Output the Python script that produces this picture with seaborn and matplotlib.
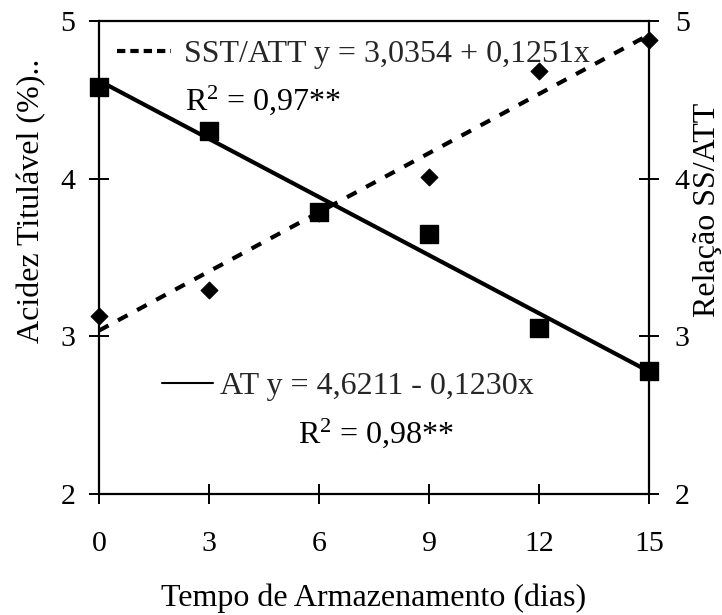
import matplotlib
matplotlib.use("Agg")
import matplotlib.pyplot as plt
from matplotlib.lines import Line2D
import seaborn as sns
import pandas as pd

# ---- data ----
days = [0, 3, 6, 9, 12, 15]
at_values = [4.58, 4.30, 3.79, 3.65, 3.05, 2.78]          # Acidez titulável (%)
ss_att_values = [3.13, 3.29, 3.78, 4.01, 4.68, 4.88]      # Relação SS/ATT
at_fit = (4.6211, -0.1230)       # intercept, slope
ss_fit = (3.0354, 0.1251)
x_ticks = [0, 3, 6, 9, 12, 15]
y_ticks = [2, 3, 4, 5]
ss_label = "SST/ATT y = 3,0354 + 0,1251x"
ss_r2 = "R$^2$ = 0,97**"
at_label = "AT y = 4,6211 - 0,1230x"
at_r2 = "R$^2$ = 0,98**"

sns.set_theme(style="white")
plt.rcParams["font.family"] = ["Liberation Serif", "DejaVu Serif"]
plt.rcParams["mathtext.fontset"] = "custom"
plt.rcParams["mathtext.rm"] = "Liberation Serif"
plt.rcParams["mathtext.it"] = "Liberation Serif:italic"
plt.rcParams["mathtext.bf"] = "Liberation Serif:bold"

fig = plt.figure(figsize=(7.22, 6.15), dpi=100)
ax = fig.add_axes([0.137, 0.197, 0.762, 0.769])

fit_x = [days[0], days[-1]]
df_fit = pd.DataFrame({
    "x": fit_x,
    "at": [at_fit[0] + at_fit[1] * d for d in fit_x],
    "ss": [ss_fit[0] + ss_fit[1] * d for d in fit_x],
})
df = pd.DataFrame({"x": days, "at": at_values, "ss": ss_att_values})

sns.lineplot(data=df_fit, x="x", y="ss", ax=ax, color="black", lw=3,
             linestyle=(0, (2.6, 2.6)), zorder=2)
sns.scatterplot(data=df, x="x", y="ss", ax=ax, marker="D", s=75,
                color="black", edgecolor="black", zorder=3, clip_on=False)
sns.lineplot(data=df_fit, x="x", y="at", ax=ax, color="black", lw=3, zorder=4)
sns.scatterplot(data=df, x="x", y="at", ax=ax, marker="s", s=150,
                color="black", edgecolor="black", zorder=5, clip_on=False)

ax.set_xlim(0, 15)
ax.set_ylim(2, 5)
ax.set_xticks(x_ticks)
ax.set_yticks(y_ticks)

for sp in ax.spines.values():
    sp.set_color("black")
    sp.set_linewidth(1.6)

ax.tick_params(axis="x", direction="inout", length=14, width=1.4,
               labelsize=21.5, pad=20, colors="black", bottom=True)
ax.tick_params(axis="y", direction="inout", length=14, width=1.4,
               labelsize=21.5, pad=10, colors="black", left=True)

ax.set_xlabel("Tempo de Armazenamento (dias)", fontsize=23, color="black")
ax.set_ylabel("Acidez Titulável (%)..", fontsize=23, color="black")
ax.xaxis.set_label_coords(0.5, -0.19)
ax.yaxis.set_label_coords(-0.096, 0.62)

ax2 = ax.twinx()
ax2.set_ylim(2, 5)
ax2.set_yticks(y_ticks)
ax2.tick_params(axis="y", direction="inout", length=14, width=1.4,
                labelsize=21.5, pad=11.5, colors="black", right=True)
ax2.set_ylabel("Relação SS/ATT", fontsize=23, color="black")
ax2.yaxis.set_label_coords(1.08, 0.6)
for sp in ax2.spines.values():
    sp.set_visible(False)
ax2.grid(False)
ax.grid(False)

# legends
h_ss = Line2D([], [], color="black", lw=3, linestyle=(0, (2.0, 1.2)))
leg1 = ax.legend([h_ss], [ss_label], loc="center left",
                 bbox_to_anchor=(0.033, 0.93), frameon=False, fontsize=23,
                 handlelength=1.7, handletextpad=0.4, borderpad=0,
                 borderaxespad=0)
ax.add_artist(leg1)
h_at = Line2D([], [], color="black", lw=1.5)
ax.legend([h_at], [at_label], loc="center left",
          bbox_to_anchor=(0.115, 0.227), frameon=False, fontsize=23,
          handlelength=1.6, handletextpad=0.2, borderpad=0, borderaxespad=0)

ax.text(0.156, 0.833, ss_r2, transform=ax.transAxes, fontsize=23,
        ha="left", va="center", color="black")
ax.text(0.362, 0.129, at_r2, transform=ax.transAxes, fontsize=23,
        ha="left", va="center", color="black")

fig.savefig("out.png", dpi=100, facecolor="white")
